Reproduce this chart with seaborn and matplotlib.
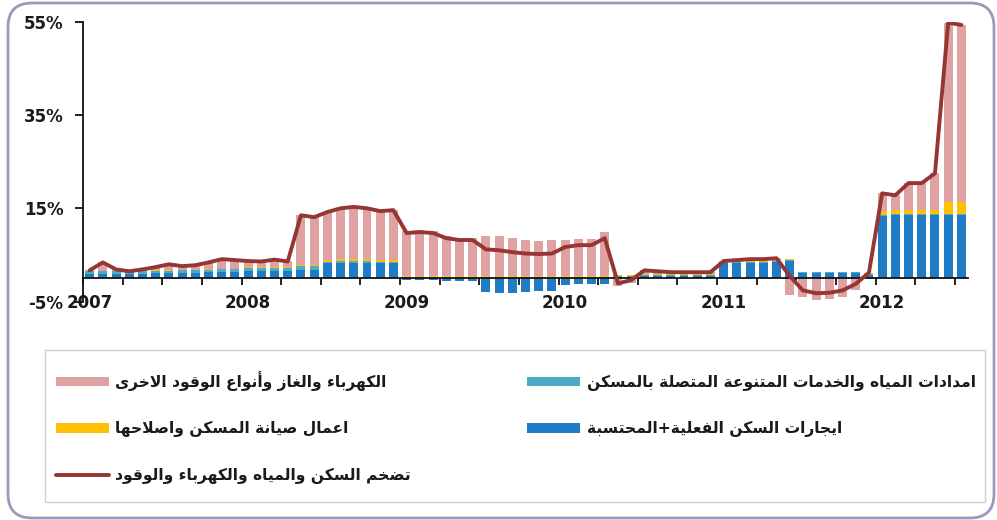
import numpy as np
import pandas as pd
import matplotlib
matplotlib.use("Agg")
import matplotlib.pyplot as plt
import seaborn as sns
from matplotlib.patches import Patch, FancyBboxPatch, Rectangle
from matplotlib.lines import Line2D

# ---------------- data ----------------
years = ["2007", "2008", "2009", "2010", "2011", "2012"]
months = pd.date_range("2007-01-01", "2012-07-01", freq="MS")

total = [1.7, 3.4, 1.9, 1.5, 1.9, 2.4, 3.0, 2.6, 2.8, 3.4, 4.1, 3.9,
         3.7, 3.6, 4.0, 3.6, 13.5, 13.1, 14.2, 15.0, 15.3, 15.0, 14.4, 14.6,
         9.7, 9.9, 9.7, 8.6, 8.2, 8.2, 6.2, 6.0, 5.6, 5.3, 5.2, 5.3,
         6.7, 7.1, 7.1, 8.6, -1.1, -0.4, 1.7, 1.5, 1.3, 1.3, 1.3, 1.3,
         3.7, 3.9, 4.1, 4.1, 4.3, 0.5, -2.6, -3.2, -3.1, -2.6, -1.2, 1.2,
         18.2, 17.8, 20.4, 20.4, 22.5, 54.8, 54.3]

rent = [1.0, 1.0, 1.0, 1.0, 1.0, 1.1, 1.1, 1.2, 1.2, 1.3, 1.4, 1.4,
        1.5, 1.5, 1.6, 1.6, 1.8, 1.8, 3.2, 3.3, 3.3, 3.3, 3.2, 3.2,
        -0.4, -0.4, -0.4, -0.5, -0.5, -0.5, -2.9, -3.1, -3.1, -3.0, -2.8, -2.8,
        -1.4, -1.3, -1.3, -1.3, 0.3, 0.3, 0.5, 0.5, 0.5, 0.5, 0.5, 0.5,
        3.2, 3.3, 3.3, 3.3, 3.4, 3.8, 1.1, 1.1, 1.1, 1.1, 1.1, 0.6,
        13.4, 13.5, 13.5, 13.5, 13.5, 13.6, 13.6]

water = [0.5, 0.5, 0.5, 0.5, 0.5, 0.5, 0.5, 0.5, 0.5, 0.5, 0.5, 0.5,
         0.7, 0.7, 0.7, 0.7, 0.8, 0.8, 0.3, 0.3, 0.3, 0.3, 0.3, 0.3,
         0.2, 0.2, 0.2, 0.2, 0.2, 0.2, 0.2, 0.2, 0.2, 0.2, 0.2, 0.2,
         0.2, 0.2, 0.2, 0.2, 0.2, 0.2, 0.3, 0.3, 0.3, 0.3, 0.3, 0.3,
         0.2, 0.2, 0.2, 0.2, 0.2, 0.2, 0.2, 0.2, 0.2, 0.2, 0.2, 0.4,
         0.2, 0.2, 0.2, 0.2, 0.2, 0.2, 0.2]

maint = [0.1, 0.1, 0.1, 0.1, 0.1, 0.1, 0.1, 0.1, 0.1, 0.1, 0.1, 0.1,
         0.2, 0.2, 0.2, 0.2, 0.3, 0.3, 0.5, 0.5, 0.5, 0.5, 0.5, 0.5,
         0.3, 0.3, 0.3, 0.2, 0.2, 0.2, 0.2, 0.2, 0.2, 0.2, 0.2, 0.2,
         0.2, 0.2, 0.2, 0.2, 0.1, 0.1, 0.1, 0.1, 0.1, 0.1, 0.1, 0.1,
         0.1, 0.1, 0.1, 0.1, 0.1, 0.1, 0.1, 0.1, 0.1, 0.1, 0.1, 0.1,
         0.9, 0.9, 0.9, 0.9, 0.9, 2.6, 2.6]

elec = [0.1, 1.8, 0.3, 0.0, 0.3, 0.7, 1.3, 0.8, 1.0, 1.5, 2.1, 1.9,
        1.3, 1.2, 1.5, 1.1, 10.6, 10.2, 10.2, 10.9, 11.2, 10.9, 10.4, 10.6,
        9.6, 9.8, 9.6, 8.7, 8.3, 8.3, 8.7, 8.7, 8.3, 7.9, 7.6, 7.7,
        7.7, 8.0, 8.0, 9.5, -1.7, -1.0, 0.8, 0.6, 0.4, 0.4, 0.4, 0.4,
        0.2, 0.3, 0.5, 0.5, 0.6, -3.6, -4.0, -4.6, -4.5, -4.0, -2.6, 0.1,
        3.7, 3.2, 5.8, 5.8, 7.9, 38.4, 37.9]

label_water = "امدادات المياه والخدمات المتنوعة المتصلة بالمسكن"
label_elec = "الكهرباء والغاز وأنواع الوقود الاخرى"
label_rent = "ايجارات السكن الفعلية+المحتسبة"
label_maint = "اعمال صيانة المسكن واصلاحها"
label_total = "تضخم السكن والمياه والكهرباء والوقود"

yticks = [-5, 15, 35, 55]

# ---------------- Arabic shaping (presentation forms + RTL order) ----------------
DUAL = {'ئ': 0xFE89, 'ب': 0xFE8F, 'ت': 0xFE95, 'ث': 0xFE99, 'ج': 0xFE9D, 'ح': 0xFEA1,
        'خ': 0xFEA5, 'س': 0xFEB1, 'ش': 0xFEB5, 'ص': 0xFEB9, 'ض': 0xFEBD, 'ط': 0xFEC1,
        'ظ': 0xFEC5, 'ع': 0xFEC9, 'غ': 0xFECD, 'ف': 0xFED1, 'ق': 0xFED5, 'ك': 0xFED9,
        'ل': 0xFEDD, 'م': 0xFEE1, 'ن': 0xFEE5, 'ه': 0xFEE9, 'ي': 0xFEF1}
RIGHT = {'آ': 0xFE81, 'أ': 0xFE83, 'ؤ': 0xFE85, 'إ': 0xFE87, 'ا': 0xFE8D, 'ة': 0xFE93,
         'د': 0xFEA9, 'ذ': 0xFEAB, 'ر': 0xFEAD, 'ز': 0xFEAF, 'و': 0xFEED, 'ى': 0xFEEF}
NONJ = {'ء': 0xFE80}
LAMALEF = {'آ': 0xFEF5, 'أ': 0xFEF7, 'إ': 0xFEF9, 'ا': 0xFEFB}


def shape(s):
    toks = []
    i = 0
    while i < len(s):
        c = s[i]
        if c == 'ل' and i + 1 < len(s) and s[i + 1] in LAMALEF:
            toks.append(('LA', s[i + 1]))
            i += 2
        else:
            toks.append(('C', c))
            i += 1

    def jt(t):
        k, c = t
        if k == 'LA':
            return 'R'
        if c in DUAL:
            return 'D'
        if c in RIGHT:
            return 'R'
        if c in NONJ:
            return 'U'
        return 'X'

    out = []
    for k, t in enumerate(toks):
        typ = jt(t)
        pj = k > 0 and jt(toks[k - 1]) == 'D' and typ in ('D', 'R')
        nj = k + 1 < len(toks) and typ == 'D' and jt(toks[k + 1]) in ('D', 'R')
        kind, c = t
        if kind == 'LA':
            out.append(chr(LAMALEF[c] + (1 if pj else 0)))
        elif typ == 'D':
            b = DUAL[c]
            out.append(chr(b + 3 if (pj and nj) else b + 1 if pj else b + 2 if nj else b))
        elif typ == 'R':
            out.append(chr(RIGHT[c] + (1 if pj else 0)))
        elif typ == 'U':
            out.append(chr(NONJ[c]))
        else:
            out.append(c)
    return ''.join(reversed(out))


# ---------------- style ----------------
sns.set_theme(style="white")
plt.rcParams['font.family'] = ['DejaVu Sans']
plt.rcParams['axes.unicode_minus'] = False

C_ELEC = "#DFA1A1"
C_WATER = "#4BACC6"
C_RENT = "#1F7BC6"
C_MAINT = "#FFC000"
C_LINE = "#943634"

fig = plt.figure(figsize=(9.97, 5.2), dpi=100)
ax = fig.add_axes([83 / 997, 1 - 301.6 / 520, (968 - 83) / 997, (301.6 - 21.7) / 520])

x = np.arange(len(months))
pos_base = np.zeros(len(x))
neg_base = np.zeros(len(x))
for vals, col in [(rent, C_RENT), (water, C_WATER), (maint, C_MAINT), (elec, C_ELEC)]:
    v = np.array(vals, dtype=float)
    bottom = np.where(v >= 0, pos_base, neg_base)
    ax.bar(x, v, bottom=bottom, width=0.68, color=col, linewidth=0, zorder=2)
    pos_base = pos_base + np.where(v > 0, v, 0)
    neg_base = neg_base + np.where(v < 0, v, 0)

df_line = pd.DataFrame({"i": x, "total": total})
sns.lineplot(data=df_line, x="i", y="total", ax=ax, color=C_LINE, linewidth=2.8,
             zorder=4, legend=False)

ax.set_xlim(-0.5, len(x) - 0.5)
ax.set_ylim(-5, 55)
ax.set_xlabel("")
ax.set_ylabel("")

ax.spines['top'].set_visible(False)
ax.spines['right'].set_visible(False)
ax.spines['bottom'].set_position(('data', 0))
for sp in ['left', 'bottom']:
    ax.spines[sp].set_color("#111111")
    ax.spines[sp].set_linewidth(1.3)
ax.spines['bottom'].set_zorder(3)

ax.set_yticks(yticks)
ax.set_yticklabels([f"{v}%" for v in yticks], fontsize=12, fontweight='bold', color="#1a1a1a")
ax.tick_params(axis='y', which='major', direction='out', length=6, width=1.3,
               color="#111111", pad=8, left=True)

ax.set_xticks([0, 12, 24, 36, 48, 60])
ax.set_xticklabels(years, fontsize=12, fontweight='bold', color="#1a1a1a")
ax.set_xticks(np.arange(-0.5, len(x), 3), minor=True)
ax.tick_params(axis='x', which='major', length=0, pad=11, bottom=True)
ax.tick_params(axis='x', which='minor', direction='out', length=5, width=1.3,
               color="#111111", bottom=True)
ax.grid(False)

# ---------------- legend ----------------
handles = [Patch(facecolor=C_ELEC, edgecolor='none'),
           Patch(facecolor=C_MAINT, edgecolor='none'),
           Line2D([0], [0], color=C_LINE, lw=2.8),
           Patch(facecolor=C_WATER, edgecolor='none'),
           Patch(facecolor=C_RENT, edgecolor='none')]
labels = [shape(label_elec), shape(label_maint), shape(label_total),
          shape(label_water), shape(label_rent)]
leg = fig.legend(handles, labels, ncol=2, loc='upper left',
                 bbox_to_anchor=(56 / 997, 1 - 371 / 520), frameon=False,
                 borderpad=0, borderaxespad=0, handlelength=3.4, handleheight=0.6,
                 handletextpad=0.4, columnspacing=7.5, labelspacing=1.95,
                 prop={'family': 'DejaVu Sans', 'weight': 'bold', 'size': 11.2})
for t in leg.get_texts():
    t.set_color("#1a1a1a")

fig.add_artist(Rectangle((45 / 997, 1 - 502 / 520), 940 / 997, 152 / 520,
                         transform=fig.transFigure, fill=False,
                         edgecolor="#D0D0D0", linewidth=1.0))

fig.add_artist(FancyBboxPatch((0.08, 0.02), 9.86, 5.15,
                              boxstyle="round,pad=0,rounding_size=0.24",
                              transform=fig.dpi_scale_trans, fill=False,
                              edgecolor="#9C99BA", linewidth=2.0))

fig.savefig("out.png", dpi=100, facecolor="white")
